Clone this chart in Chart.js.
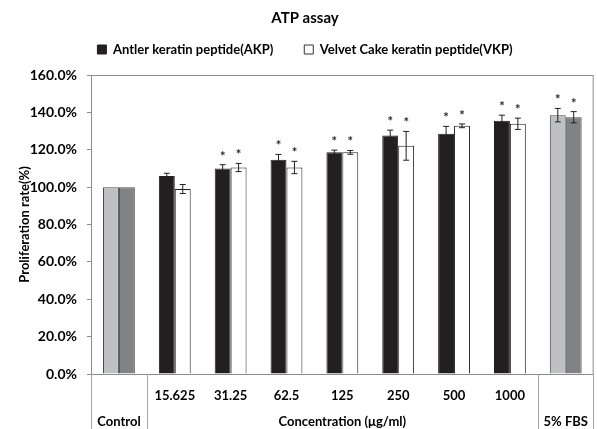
<!DOCTYPE html>
<html>
<head>
<meta charset="utf-8">
<script src="https://cdn.jsdelivr.net/npm/chart.js@4"></script>
<style>
html,body{margin:0;padding:0;background:#fff;}
#wrap{width:597px;height:429px;position:relative;}
</style>
</head>
<body>
<div id="wrap"><canvas id="c" width="597" height="429"></canvas></div>
<script>
// ---- data ----
const categories = ["Control", "15.625", "31.25", "62.5", "125", "250", "500", "1000", "5% FBS"];
const tickNumbers = ["", "15.625", "31.25", "62.5", "125", "250", "500", "1000", ""];
const groupLabels = ["Control", "", "", "", "Concentration (\u03bcg/ml)", "", "", "", "5% FBS"];
const seriesNames = ["Antler keratin peptide(AKP)", "Velvet Cake keratin peptide(VKP)"];
const akpValues = [100, 105.9, 110.0, 114.6, 118.6, 127.6, 128.5, 135.5, 138.5];
const akpErrors = [0, 1.5, 2.0, 2.9, 1.2, 2.9, 4.0, 3.0, 3.6];
const vkpValues = [100, 99.0, 110.5, 110.5, 118.6, 122.1, 132.8, 133.9, 137.4];
const vkpErrors = [0, 2.4, 2.2, 3.3, 1.0, 7.7, 1.0, 3.0, 3.0];
const akpSignificant = [false, false, true, true, true, true, true, true, true];
const vkpSignificant = [false, false, true, true, true, true, true, true, true];
const yTicks = [0, 20, 40, 60, 80, 100, 120, 140, 160];

// ---- styles ----
const BLACK = '#231f20', WHITE = '#ffffff', LGRAY = '#bfc0c4', DGRAY = '#808285';
const FONT = 'Lato';
const akpColors = categories.map((c, i) => (i === 0 || i === categories.length - 1) ? LGRAY : BLACK);
const vkpColors = categories.map((c, i) => (i === 0 || i === categories.length - 1) ? DGRAY : WHITE);
const borderCols = categories.map((c, i) => (i === 0 || i === categories.length - 1) ? '#4a4a4a' : '#231f20');

const labels = categories.map((c, i) => [tickNumbers[i], groupLabels[i]]);

const errorPlugin = {
  id: 'errorPlugin',
  afterDatasetsDraw(chart) {
    const ctx = chart.ctx;
    const y = chart.scales.y;
    const errs = [akpErrors, vkpErrors];
    const sig = [akpSignificant, vkpSignificant];
    ctx.save();
    chart.data.datasets.forEach((ds, di) => {
      const meta = chart.getDatasetMeta(di);
      meta.data.forEach((bar, i) => {
        const v = ds.data[i], e = errs[di][i];
        const yTop = y.getPixelForValue(v + e);
        const yBot = y.getPixelForValue(v - e);
        if (e > 0) {
          ctx.strokeStyle = '#231f20';
          ctx.lineWidth = 1;
          ctx.beginPath();
          ctx.moveTo(bar.x, yTop); ctx.lineTo(bar.x, yBot);
          ctx.moveTo(bar.x - 3, yTop); ctx.lineTo(bar.x + 3, yTop);
          ctx.moveTo(bar.x - 3, yBot); ctx.lineTo(bar.x + 3, yBot);
          ctx.stroke();
        }
        if (sig[di][i]) {
          ctx.fillStyle = '#231f20';
          ctx.font = 'bold 13px ' + FONT;
          ctx.textAlign = 'center';
          ctx.textBaseline = 'alphabetic';
          ctx.fillText('*', bar.x, yTop - 4);
        }
      });
    });
    ctx.restore();
  },
  afterDraw(chart) {
    const ctx = chart.ctx;
    const a = chart.chartArea;
    const x = chart.scales.x;
    ctx.save();
    ctx.strokeStyle = '#8c8c8c';
    ctx.lineWidth = 1;
    ctx.strokeRect(a.left + 0.5, a.top + 0.5, a.right - a.left - 1, a.bottom - a.top);
    ctx.strokeStyle = '#a6a6a6';
    const n = categories.length;
    const bounds = [x.left, (x.getPixelForValue(0) + x.getPixelForValue(1)) / 2,
                    (x.getPixelForValue(n - 2) + x.getPixelForValue(n - 1)) / 2, x.right - 1];
    ctx.beginPath();
    bounds.forEach(bx => {
      const px = Math.round(bx) + 0.5;
      ctx.moveTo(px, a.bottom); ctx.lineTo(px, chart.height);
    });
    ctx.stroke();
    ctx.restore();
  }
};

new Chart(document.getElementById('c'), {
  type: 'bar',
  data: {
    labels: labels,
    datasets: [
      { label: seriesNames[0], data: akpValues, backgroundColor: akpColors, borderColor: borderCols, borderWidth: 1,
        categoryPercentage: 0.57, barPercentage: 1.0 },
      { label: seriesNames[1], data: vkpValues, backgroundColor: vkpColors, borderColor: borderCols, borderWidth: 1,
        categoryPercentage: 0.57, barPercentage: 1.0 }
    ]
  },
  options: {
    responsive: false,
    animation: false,
    devicePixelRatio: 1,
    layout: { padding: { left: 14, right: 1, top: 0, bottom: 0 } },
    plugins: {
      title: { display: true, text: 'ATP assay', color: '#000',
               font: { family: FONT, size: 15, weight: 'bold', lineHeight: 1.2 }, padding: { top: 9, bottom: -15 } },
      subtitle: { display: true, text: '', weight: 500, padding: 0, font: { size: 9, lineHeight: 1 } },
      legend: {
        display: true,
        labels: {
          color: '#000',
          font: { family: FONT, size: 13, weight: 'bold' },
          boxWidth: 9, boxHeight: 9, padding: 31,
          generateLabels() {
            return [
              { text: seriesNames[0], fillStyle: BLACK, strokeStyle: BLACK, lineWidth: 1, datasetIndex: 0 },
              { text: seriesNames[1], fillStyle: WHITE, strokeStyle: '#333', lineWidth: 1, datasetIndex: 1 }
            ];
          }
        }
      },
      tooltip: { enabled: false }
    },
    scales: {
      x: {
        grid: { display: false, drawTicks: false },
        border: { display: true, color: '#8c8c8c' },
        ticks: { color: '#000', font: { family: FONT, size: 13, weight: 'bold', lineHeight: 2 },
                 autoSkip: false, maxRotation: 0, minRotation: 0, padding: 9 },
        afterFit(s) { s.height = 55; }
      },
      y: {
        min: 0, max: 160,
        afterBuildTicks(s) { s.ticks = yTicks.map(v => ({ value: v })); },
        grid: { drawOnChartArea: false, tickLength: 4, color: '#8c8c8c' },
        border: { display: true, color: '#8c8c8c' },
        ticks: { color: '#000', font: { family: FONT, size: 14, weight: 'bold' }, padding: 10,
                 callback: v => v.toFixed(1) + '%' },
        title: { display: true, text: 'Proliferation rate(%)', color: '#000',
                 font: { family: FONT, size: 13, weight: 'bold' }, padding: { top: 3, bottom: 0 } },
        afterFit(s) { s.width = 77; }
      }
    }
  },
  plugins: [errorPlugin]
});
</script>
</body>
</html>
